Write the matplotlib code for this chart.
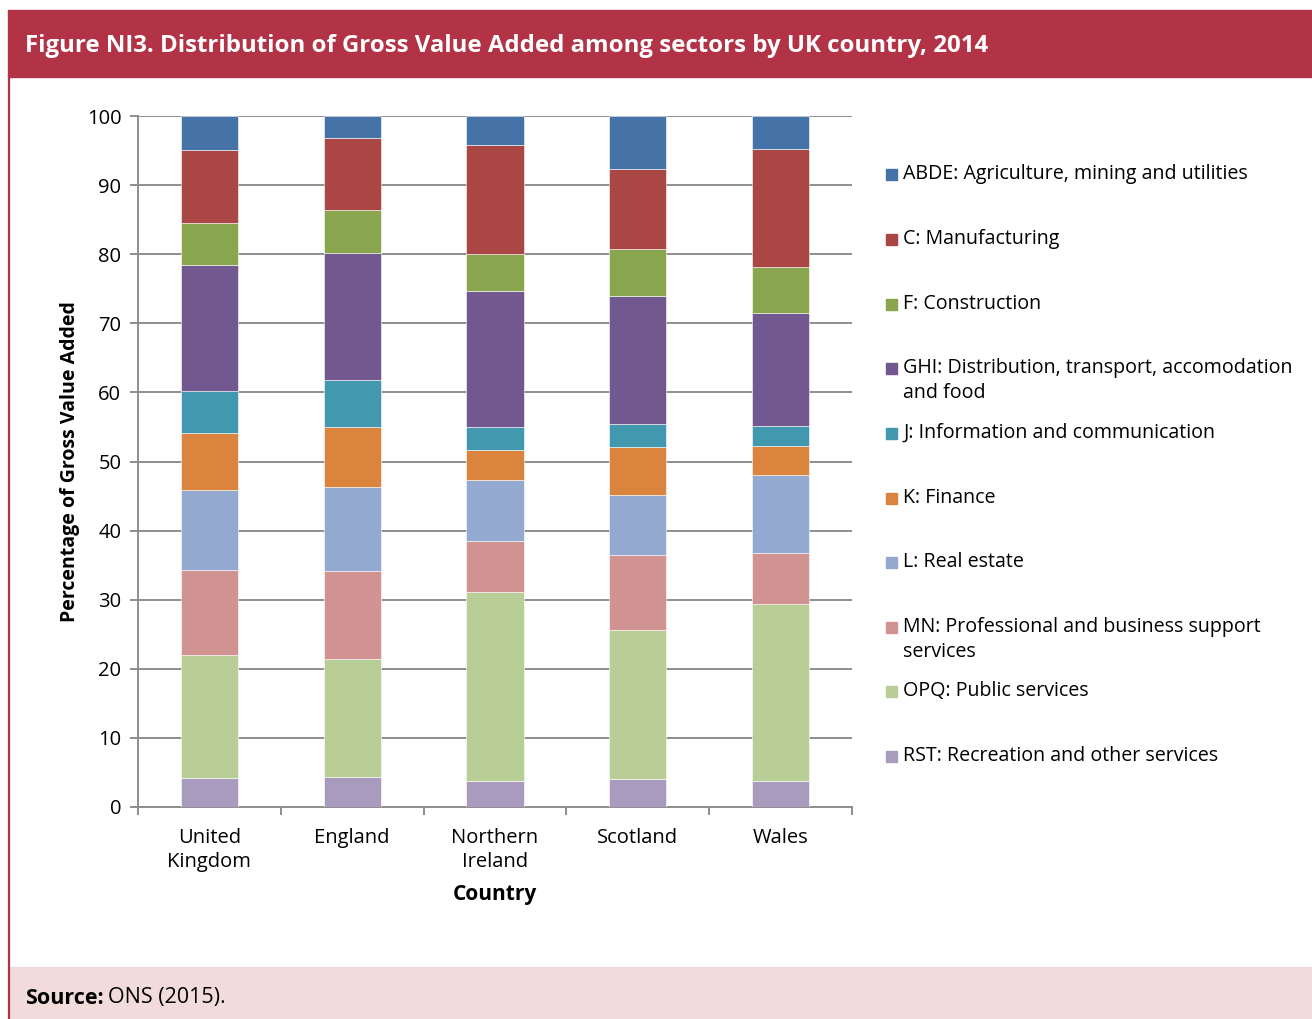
import numpy as np
import matplotlib.pyplot as plt
from matplotlib.patches import Rectangle

plt.rcParams['font.family'] = ['Open Sans', 'DejaVu Sans']

# ---------- Datos ----------
countries = ["United\nKingdom", "England", "Northern\nIreland", "Scotland", "Wales"]
sectors = [
    "RST: Recreation and other services",
    "OPQ: Public services",
    "MN: Professional and business support\nservices",
    "L: Real estate",
    "K: Finance",
    "J: Information and communication",
    "GHI: Distribution, transport, accomodation\nand food",
    "F: Construction",
    "C: Manufacturing",
    "ABDE: Agriculture, mining and utilities",
]
colors = ["#A99BBD", "#B9CD96", "#D19392", "#93A9CF", "#DB843D",
          "#4198AF", "#71588F", "#89A54E", "#AA4643", "#4572A7"]

rst = [4.2, 4.3, 3.8, 4.1, 3.8]
opq = [17.8, 17.1, 27.3, 21.5, 25.6]
mn = [12.3, 12.8, 7.4, 10.9, 7.4]
l_re = [11.6, 12.1, 8.8, 8.7, 11.2]
k_fin = [8.2, 8.7, 4.4, 6.9, 4.2]
j_ict = [6.1, 6.8, 3.3, 3.3, 2.9]
ghi = [18.2, 18.4, 19.7, 18.6, 16.4]
f_con = [6.1, 6.2, 5.3, 6.8, 6.6]
c_man = [10.6, 10.4, 15.8, 11.5, 17.1]
abde = [4.9, 3.2, 4.2, 7.7, 4.8]

series = [rst, opq, mn, l_re, k_fin, j_ict, ghi, f_con, c_man, abde]

W, H = 1312, 1019
fig = plt.figure(figsize=(W / 100, H / 100), dpi=100)

# ---------- Marco: barra de titulo, borde, pie ----------
fig.patches.append(Rectangle((8 / W, 1 - 77 / H), 1 - 8 / W, 67 / H,
                             transform=fig.transFigure, color="#B23246", zorder=0))
fig.patches.append(Rectangle((9 / W, 0), 1 - 9 / W, 52 / H,
                             transform=fig.transFigure, color="#F2DCDB", zorder=0))
fig.lines.append(plt.Line2D([8.5 / W, 8.5 / W], [0, 1 - 77 / H],
                            transform=fig.transFigure, color="#B23246", lw=1.6))
fig.text(25 / W, 1 - 46 / H,
         "Figure NI3. Distribution of Gross Value Added among sectors by UK country, 2014",
         color="white", fontsize=17.3, fontweight="bold", va="center", ha="left")
fig.text(25 / W, 1 - 998 / H, "Source:", fontsize=15.5, fontweight="bold", va="center")
fig.text(108 / W, 1 - 998 / H, "ONS (2015).", fontsize=15.5, va="center")

# ---------- Grafico ----------
ax = fig.add_axes([138 / W, 1 - 807 / H, 714 / W, 691 / H])
x = np.arange(len(countries))
bottom = np.zeros(len(countries))
for vals, col, lab in zip(series, colors, sectors):
    ax.bar(x, vals, width=0.4, bottom=bottom, color=col, label=lab,
           edgecolor="white", linewidth=0.4, zorder=3)
    bottom += np.array(vals)

ax.set_xlim(-0.5, 4.5)
ax.set_ylim(0, 100)
ax.set_yticks(np.arange(0, 101, 10))
ax.yaxis.grid(True, color="#8E8E8E", lw=1.4, zorder=0)
ax.set_axisbelow(True)
for s in ("top", "right"):
    ax.spines[s].set_visible(False)
for s in ("left", "bottom"):
    ax.spines[s].set_color("#8E8E8E")
    ax.spines[s].set_linewidth(1.4)
ax.set_xticks(x)
ax.set_xticklabels(countries, fontsize=14.5, linespacing=1.25)
ax.set_xticks(np.arange(-0.5, 5.0, 1.0), minor=True)
ax.tick_params(axis="x", which="major", length=0, pad=15)
ax.tick_params(axis="x", which="minor", length=6, width=1.4, color="#8E8E8E")
ax.tick_params(axis="y", length=6, width=1.4, color="#8E8E8E", labelsize=14.5, pad=6)
ax.set_xlabel("Country", fontsize=15, fontweight="bold", labelpad=9)
ax.set_ylabel("Percentage of Gross Value Added", fontsize=14, fontweight="bold", labelpad=5)

# ---------- Leyenda ----------
leg_y = [756, 691, 627, 562, 498, 433, 368, 304, 239, 174]
for lab, col, yy in zip(sectors, colors, leg_y):
    fig.patches.append(Rectangle((886 / W, 1 - (yy + 6) / H), 11 / W, 11 / H,
                                 transform=fig.transFigure, color=col))
    for i, ln in enumerate(lab.split("\n")):
        fig.text(903 / W, 1 - (yy + 25 * i) / H, ln, fontsize=14.1, va="center", ha="left")

fig.savefig("out.png", dpi=100)
